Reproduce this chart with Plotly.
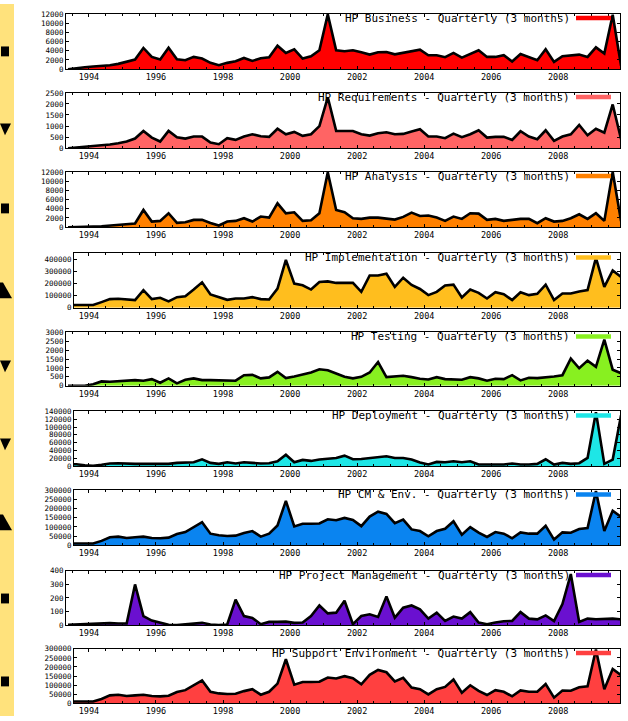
import plotly.graph_objects as go

W, H = 628, 721

# ---- data ---------------------------------------------------------------
quarters = [(y, q) for y in range(1993, 2010) for q in range(1, 5) if (y, q) >= (1993, 2)]
x_years = [y + (q - 0.5) / 4 for y, q in quarters]

tick_years = [1994, 1996, 1998, 2000, 2002, 2004, 2006, 2008]
tick_labels = [str(t) for t in tick_years]

titles = [
    "HP Business - Quarterly (3 months)",
    "HP Requirements - Quarterly (3 months)",
    "HP Analysis - Quarterly (3 months)",
    "HP Implementation - Quarterly (3 months)",
    "HP Testing - Quarterly (3 months)",
    "HP Deployment - Quarterly (3 months)",
    "HP CM & Env. - Quarterly (3 months)",
    "HP Project Management - Quarterly (3 months)",
    "HP Support Environment - Quarterly (3 months)",
]

business = [0, 290, 430, 575, 650, 860, 1150, 1580, 2080, 4600,
            2660, 2080, 4670, 2160, 1940, 2660, 2300, 1370, 860, 1370,
            1720, 2440, 1800, 2370, 2590, 5100, 3520, 4310, 2300, 2800,
            4100, 11900, 4100, 3880, 4100, 3660, 3160, 3660, 3740, 3230,
            3520, 3880, 4240, 3020, 3020, 2590, 3520, 2510, 3380, 4100,
            2660, 2660, 3020, 1650, 3300, 2660, 1940, 4310, 1580, 2800,
            3020, 3160, 2660, 4740, 3380, 11800, 720]
requirements = [0, 30, 60, 75, 120, 165, 225, 300, 435, 780,
                480, 300, 780, 495, 435, 525, 525, 255, 180, 450,
                375, 525, 630, 540, 510, 880, 630, 735, 555, 630,
                1000, 2300, 780, 780, 780, 630, 570, 675, 720, 630,
                645, 750, 855, 525, 525, 450, 660, 495, 630, 810,
                480, 510, 510, 375, 765, 525, 405, 810, 330, 525,
                630, 1050, 585, 880, 705, 1975, 405]
analysis = [0, 0, 70, 140, 215, 360, 430, 575, 790, 3740,
            1220, 1370, 3020, 930, 1080, 1580, 1580, 930, 360, 1220,
            1370, 1940, 1220, 2300, 2080, 5170, 3020, 3230, 1370, 1510,
            3020, 11900, 3740, 3230, 1940, 1800, 2080, 2080, 1940, 1650,
            2230, 3160, 2440, 2520, 2080, 1370, 2300, 1800, 3020, 2950,
            1580, 1800, 1370, 1580, 1800, 1800, 860, 1940, 1220, 1370,
            1940, 2800, 1800, 3020, 1370, 12000, 1300]
implementation = [22000, 22000, 22000, 22000, 46000, 71000, 74000, 68000, 63000, 145000,
                  71000, 82000, 52000, 87000, 95000, 150000, 210000, 109000, 90000, 65000,
                  76000, 76000, 87000, 71000, 68000, 158000, 395000, 199000, 185000, 150000,
                  213000, 218000, 205000, 205000, 205000, 131000, 267000, 267000, 281000, 172000,
                  248000, 188000, 155000, 104000, 131000, 183000, 191000, 85000, 150000, 123000,
                  76000, 128000, 112000, 63000, 128000, 104000, 115000, 191000, 63000, 117000,
                  117000, 134000, 145000, 412000, 172000, 308000, 254000]
testing = [0, 0, 0, 75, 240, 220, 260, 315, 315, 280,
           370, 165, 410, 130, 335, 410, 315, 315, 295, 280,
           280, 590, 610, 410, 465, 780, 425, 520, 650, 740,
           925, 870, 685, 500, 410, 500, 740, 1330, 480, 535,
           555, 480, 390, 350, 480, 370, 350, 335, 480, 410,
           280, 390, 370, 590, 295, 445, 425, 465, 520, 590,
           1520, 980, 1410, 1060, 2590, 900, 700]
deployment = [4200, 5000, 2500, 800, 3400, 6700, 7500, 5900, 5900, 5900,
              5900, 6700, 5900, 8400, 10000, 10000, 17600, 8400, 5900, 10000,
              6700, 10000, 8400, 6700, 7500, 12600, 29300, 10000, 15900, 13400,
              16800, 18400, 21000, 26800, 17600, 18400, 20100, 22600, 25100, 21000,
              21000, 16800, 9200, 4200, 10900, 10000, 12600, 10000, 12600, 4200,
              4200, 4200, 4200, 6700, 4200, 4200, 5900, 17600, 4200, 8400,
              5900, 7500, 21000, 138000, 5900, 16800, 130000]
cm_env = [9000, 9000, 9000, 9000, 23400, 43100, 46700, 39500, 43100, 46700,
          39500, 37700, 41300, 61100, 71900, 98800, 125700, 62900, 53900, 50300,
          52100, 66500, 77200, 46700, 62900, 107800, 242500, 102400, 116800, 116800,
          118600, 141900, 136500, 149100, 138300, 104200, 156300, 183200, 170700, 120400,
          140100, 86200, 77200, 48500, 77200, 89800, 131100, 57500, 98800, 68300,
          44900, 71900, 62900, 37700, 70100, 62900, 62900, 106000, 30500, 70100,
          68300, 88000, 93400, 296000, 77200, 188600, 155000]
project_mgmt = [2, 5, 7, 7, 15, 15, 12, 12, 300, 67,
                34, 19, 2, 0, 5, 12, 17, 5, 0, 5,
                188, 67, 53, 7, 24, 24, 26, 17, 19, 67,
                145, 87, 92, 180, 7, 67, 80, 60, 212, 55,
                128, 145, 116, 48, 92, 31, 63, 48, 96, 19,
                7, 19, 29, 31, 96, 48, 43, 72, 30, 155,
                376, 24, 48, 43, 48, 48, 43]
support_env = [9000, 9000, 9000, 9000, 23400, 43100, 46700, 39500, 43100, 46700,
               39500, 37700, 41300, 61100, 71900, 98800, 125700, 62900, 53900, 50300,
               52100, 66500, 77200, 46700, 62900, 107800, 242500, 102400, 116800, 116800,
               118600, 141900, 136500, 149100, 138300, 104200, 156300, 183200, 170700, 120400,
               140100, 86200, 77200, 48500, 77200, 89800, 131100, 57500, 98800, 68300,
               44900, 71900, 62900, 37700, 70100, 62900, 62900, 106000, 30500, 70100,
               68300, 88000, 93400, 296000, 77200, 188600, 155000]

series = [business, requirements, analysis, implementation, testing,
          deployment, cm_env, project_mgmt, support_env]
y_max = [12000, 2500, 12000, 450000, 3000, 140000, 300000, 400, 300000]
y_step = [2000, 500, 2000, 100000, 500, 20000, 50000, 100, 50000]

# ---- style / layout ----------------------------------------------------
colors = ["#FF0000", "#FF6464", "#FF8000", "#FFBE1E", "#88F020",
          "#1EE6E6", "#0A84F0", "#6A10D0", "#FF4040"]
tops = [10, 90, 170, 252.5, 332.5, 412.5, 492.5, 574, 653]
bottoms = [66, 146, 226, 307.5, 386.5, 468, 548, 629, 708]
lefts = [66, 66, 66, 74, 66, 74, 74, 66, 74]
RIGHT = 620
PX_PER_Q = 8.38


def fx(px):
    return px / W


def fy(py):
    return 1 - py / H


def px_to_year(px):
    return 1993.375 + (px - 68) / PX_PER_Q * 0.25


FONT = "DejaVu Sans Mono"
fig = go.Figure()
shapes = []
annotations = []
layout = {}

for k in range(9):
    sfx = "" if k == 0 else str(k + 1)
    vals = series[k]
    fig.add_trace(go.Scatter(
        x=x_years[:len(vals)], y=vals, mode="lines",
        fill="tozeroy", fillcolor=colors[k],
        line=dict(color="black", width=2.6),
        xaxis="x" + sfx, yaxis="y" + sfx, hoverinfo="skip", showlegend=False))
    layout["xaxis" + sfx] = dict(
        domain=[fx(lefts[k]), fx(RIGHT)], anchor="y" + sfx,
        range=[px_to_year(lefts[k]), px_to_year(RIGHT)],
        tickmode="array", tickvals=tick_years, ticktext=tick_labels,
        ticks="inside", ticklen=3, tickcolor="black",
        minor=dict(ticks="inside", ticklen=2, tickcolor="black", dtick=0.5, tick0=1994),
        showline=True, linecolor="black", linewidth=1, mirror="ticks",
        showgrid=False, zeroline=False,
        tickfont=dict(family=FONT, size=8.5, color="black"), fixedrange=True)
    layout["yaxis" + sfx] = dict(
        domain=[fy(bottoms[k]), fy(tops[k])], anchor="x" + sfx,
        range=[0, y_max[k]], tickmode="linear", tick0=0, dtick=y_step[k],
        tickformat="d", ticks="inside", ticklen=3, tickcolor="black",
        showline=True, linecolor="black", linewidth=1, mirror="ticks",
        showgrid=False, zeroline=False,
        tickfont=dict(family=FONT, size=7.5, color="black"), fixedrange=True)
    # key text and swatch (gnuplot style, top-right inside the frame)
    annotations.append(dict(
        xref="paper", yref="paper", x=fx(572), y=fy(tops[k] + 4.5),
        xanchor="right", yanchor="middle", showarrow=False,
        text=titles[k], font=dict(family=FONT, size=11, color="black")))
    shapes.append(dict(
        type="rect", xref="paper", yref="paper",
        x0=fx(576), x1=fx(611), y0=fy(tops[k] + 6.5), y1=fy(tops[k] + 2),
        fillcolor=colors[k], line=dict(width=0)))

# yellow strip at the left edge with cut-off dark glyphs
shapes.append(dict(type="rect", xref="paper", yref="paper", x0=0, x1=fx(14), y0=0, y1=1,
                   fillcolor="#FFE27C", line=dict(width=0), layer="below"))
glyphs = [(48, "sq"), (127, "v"), (207, "sq"), (290, "tri"), (367, "v"),
          (446, "v"), (525, "tri"), (602, "sq"), (686, "sq")]
for gy, kind in glyphs:
    if kind == "sq":
        shapes.append(dict(type="rect", xref="paper", yref="paper",
                           x0=fx(1), x1=fx(9), y0=fy(gy + 5), y1=fy(gy - 5),
                           fillcolor="black", line=dict(width=0)))
    elif kind == "v":
        p = f"M {fx(0)} {fy(gy - 6)} L {fx(11)} {fy(gy - 6)} L {fx(5)} {fy(gy + 6)} Z"
        shapes.append(dict(type="path", xref="paper", yref="paper", path=p,
                           fillcolor="black", line=dict(width=0)))
    else:
        p = f"M {fx(0)} {fy(gy - 8)} L {fx(3)} {fy(gy - 8)} L {fx(12)} {fy(gy + 8)} L {fx(0)} {fy(gy + 8)} Z"
        shapes.append(dict(type="path", xref="paper", yref="paper", path=p,
                           fillcolor="black", line=dict(width=0)))

fig.update_layout(
    width=W, height=H, autosize=False,
    margin=dict(l=0, r=0, t=0, b=0),
    paper_bgcolor="white", plot_bgcolor="white",
    shapes=shapes, annotations=annotations, showlegend=False,
    **layout)

fig.write_html("out.html", config={"displayModeBar": False, "staticPlot": True},
               post_script="document.body.style.margin='0';document.body.style.padding='0';")
